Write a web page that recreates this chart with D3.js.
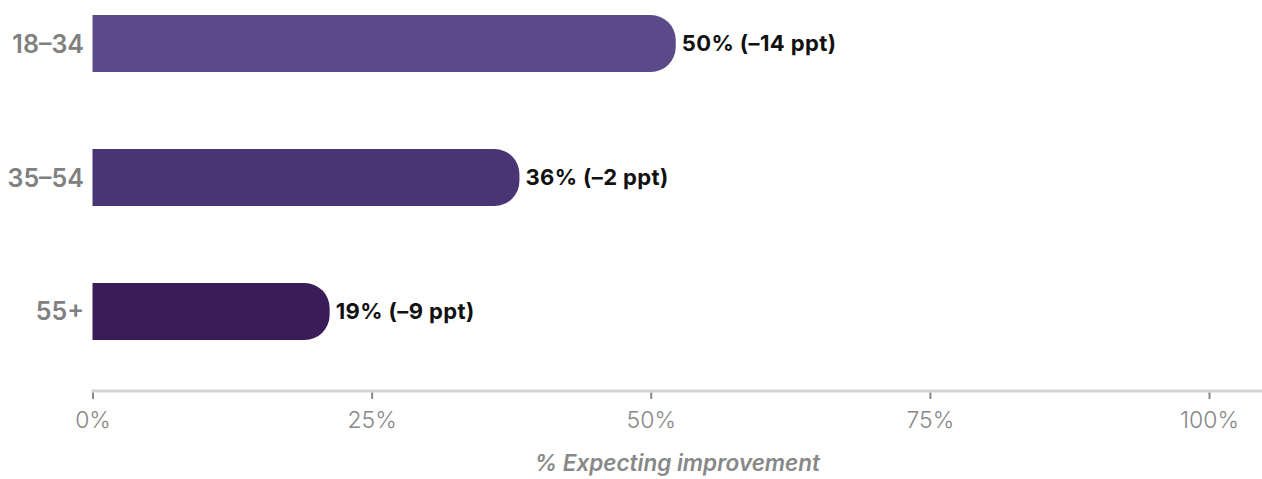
<!DOCTYPE html>
<html>
<head>
<meta charset="utf-8">
<script src="https://cdn.jsdelivr.net/npm/d3@7"></script>
<style>
  html, body { margin: 0; padding: 0; background: #ffffff; }
  svg { display: block; font-family: "Inter", "Noto Sans", sans-serif; }
</style>
</head>
<body>
<svg id="chart" width="1262" height="479"></svg>
<script>
// Share of each age group expecting improvement, with change in percentage points
const categories = ["18-34", "35-54", "55+"];
const values = [50, 36, 19];
const changes = [-14, -2, -9];
const barColors = ["#5b4a89", "#4a3574", "#391c58"];
const tickValues = [0, 25, 50, 75, 100];
const axisTitle = "% Expecting improvement";

const width = 1262, height = 479;

const svg = d3.select("#chart");

const x = d3.scaleLinear().domain([0, 100]).range([92.5, 1209]);
const y = d3.scaleBand().domain(categories)
  .range([1.6, 353.4])
  .paddingInner(0.5746)
  .paddingOuter(0.1);

// Bars: flat left edge, rounded cap past the value position
const capW = 25, capR = 25;
function barPath(v, cat) {
  const x0 = x(0), x1 = x(v), y0 = y(cat), h = y.bandwidth(), y1 = y0 + h;
  return `M${x0},${y0}H${x1}` +
    `A${capR},${capR} 0 0 1 ${x1 + capW},${y0 + capR}` +
    `V${y1 - capR}` +
    `A${capR},${capR} 0 0 1 ${x1},${y1}` +
    `H${x0}Z`;
}

svg.append("g").selectAll("path")
  .data(categories)
  .join("path")
  .attr("d", (c, i) => barPath(values[i], c))
  .attr("fill", (c, i) => barColors[i]);

// Value labels
svg.append("g").selectAll("text")
  .data(categories)
  .join("text")
  .attr("x", (c, i) => x(values[i]) + capW + 6)
  .attr("y", c => y(c) + y.bandwidth() / 2)
  .attr("dy", "0.35em")
  .attr("font-size", 22)
  .attr("font-weight", 700)
  .attr("letter-spacing", 0.4)
  .attr("fill", "#111111")
  .text((c, i) => `${values[i]}% (\u2013${Math.abs(changes[i])} ppt)`);

// Category labels
svg.append("g").selectAll("text")
  .data(categories)
  .join("text")
  .attr("x", 84)
  .attr("y", c => y(c) + y.bandwidth() / 2)
  .attr("dy", "0.36em")
  .attr("text-anchor", "end")
  .attr("font-size", 25)
  .attr("font-weight", 600)
  .attr("fill", "#808080")
  .text(c => c.replace("-", "\u2013"));

// X axis
const axisY = 391;
const axis = svg.append("g").attr("transform", `translate(0,${axisY})`);
axis.append("line")
  .attr("x1", x(0) - 1).attr("x2", width)
  .attr("stroke", "#d3d3d3").attr("stroke-width", 3);

axis.append("g")
  .call(d3.axisBottom(x).tickValues(tickValues).tickSize(0).tickPadding(0).tickFormat(d => d + "%"))
  .call(g => g.select(".domain").remove())
  .call(g => g.selectAll(".tick line").remove())
  .call(g => g.selectAll(".tick").append("line")
      .attr("y1", 1.5).attr("y2", 8)
      .attr("stroke", "#888888").attr("stroke-width", 2))
  .call(g => g.selectAll(".tick text")
      .attr("y", 37).attr("dy", 0)
      .attr("font-family", "Inter, 'Noto Sans', sans-serif")
      .attr("font-size", 23)
      .attr("font-weight", 300)
      .attr("fill", "#888888"));

svg.append("text")
  .attr("x", (x(0) + width) / 2)
  .attr("y", 471)
  .attr("text-anchor", "middle")
  .attr("font-size", 22.5)
  .attr("font-style", "italic")
  .attr("font-weight", 600)
  .attr("fill", "#888888")
  .text(axisTitle);
</script>
</body>
</html>
